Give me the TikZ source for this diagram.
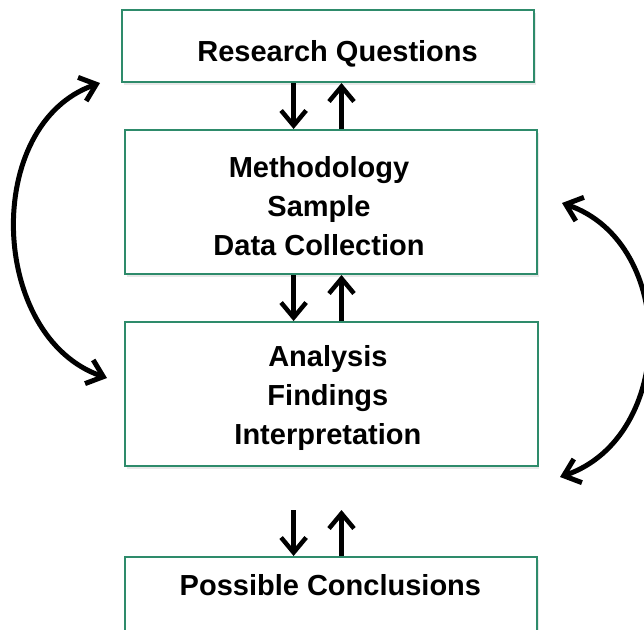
\documentclass[tikz,border=0pt]{standalone}
\usepackage{fontspec}
\setmainfont{Liberation Sans}
\usetikzlibrary{arrows.meta,shadows}
\definecolor{boxgreen}{HTML}{2E8B6B}
\tikzset{
  box/.style={draw=boxgreen, line width=2pt, fill=white, inner sep=0pt,
    drop shadow={opacity=0.3, fill=gray!60, shadow xshift=1.5pt, shadow yshift=-3pt}},
  lbl/.style={font=\fontsize{29}{38.75}\selectfont\bfseries, align=center, inner sep=0pt, anchor=base},
  arr/.style={line width=4.5pt, -{Straight Barb[length=15pt, width=25pt, line width=4.5pt]}},
  carr/.style={line width=5pt, {Straight Barb[length=15pt, width=25pt, line width=5pt]}-{Straight Barb[length=15pt, width=25pt, line width=5pt]}}
}
\begin{document}
\begin{tikzpicture}[x=1pt, y=-1pt]
\useasboundingbox (0,0) rectangle (644,629);
\clip (0,0) rectangle (644,629);
% boxes
\node[box, minimum width=412pt, minimum height=72pt] (rq) at (328.4,46) {};
\node[box, minimum width=411.7pt, minimum height=144pt] (msd) at (331.2,202) {};
\node[box, minimum width=412.2pt, minimum height=143.7pt] (afi) at (331.4,393.9) {};
\node[box, minimum width=412pt, minimum height=144pt] (pc) at (331,629) {};
% texts (multi-line nodes anchored at the baseline of their last line)
\node[lbl] (trq) at (337.6,61) {Research Questions};
\node[lbl] (tmsd) at (319,255) {Methodology\\Sample\\Data Collection};
\node[lbl] (tafi) at (327.9,444.3) {Analysis\\Findings\\Interpretation};
\node[lbl] (tpc) at (330.4,595.5) {Possible Conclusions};
% arrow columns
\coordinate (xd) at (293.6,0);
\coordinate (xu) at (341.5,0);
\coordinate (gap) at (0,510);
\draw[arr] (xd |- rq.south) -- (xd |- msd.north);
\draw[arr] (xu |- msd.north) -- (xu |- rq.south);
\draw[arr] (xd |- msd.south) -- (xd |- afi.north);
\draw[arr] (xu |- afi.north) -- (xu |- msd.south);
\draw[arr] (xd |- gap) -- (xd |- pc.north);
\draw[arr] (xu |- pc.north) -- (xu |- gap);
% curved arrows
\coordinate (lt) at (100,83);
\coordinate (lb) at (107,378);
\coordinate (rt) at (562,203);
\coordinate (rb) at (560,477);
\draw[carr] (lb) .. controls (-11,337) and (-18,124) .. (lt);
\draw[carr] (rt) .. controls (678,243) and (676,437) .. (rb);
\end{tikzpicture}
\end{document}
